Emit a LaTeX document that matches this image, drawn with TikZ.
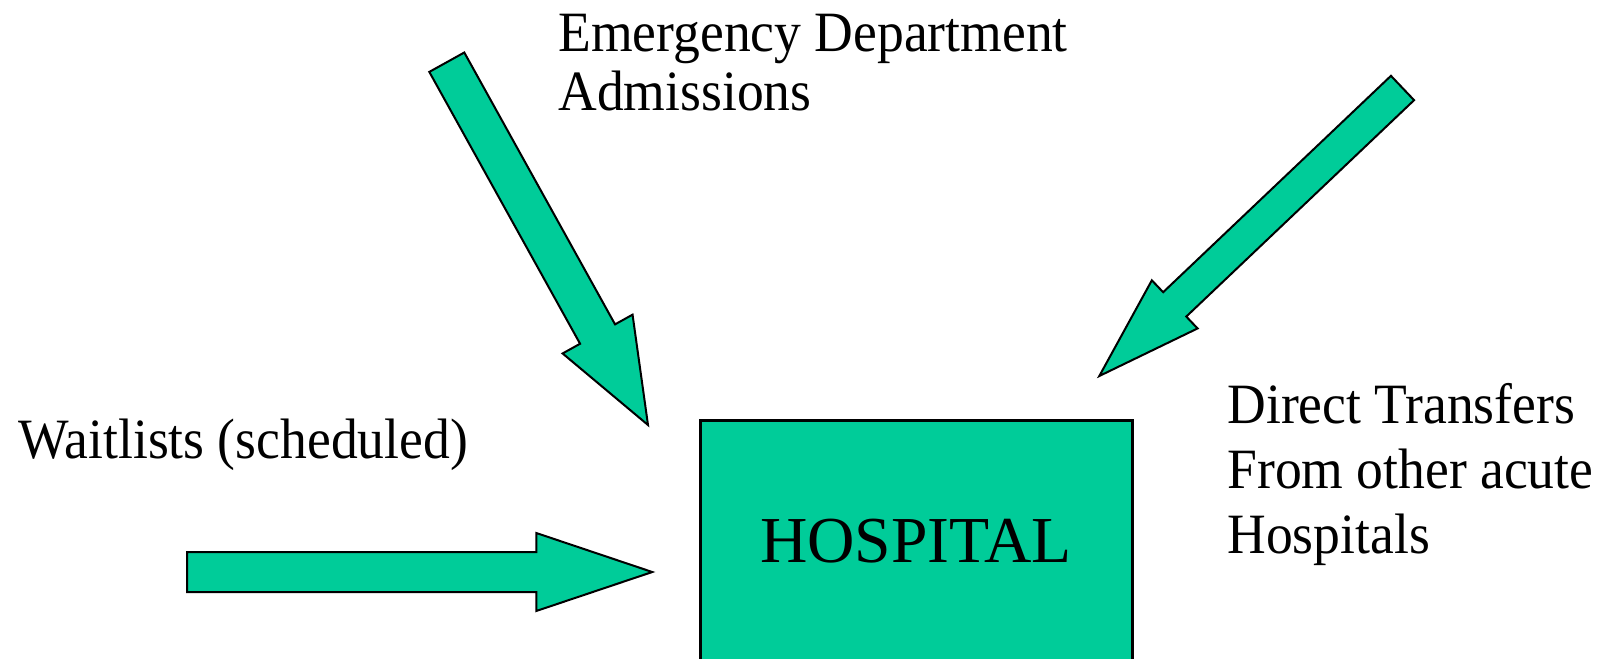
\documentclass[tikz,border=0pt]{standalone}
\usepackage{fontspec}
\setmainfont{Liberation Serif}
\newfontfamily\lblfont[FakeStretch=0.94]{Liberation Serif}
\newfontfamily\boxfont[FakeStretch=1.0]{Liberation Serif}
\usepackage{tikz}
\usetikzlibrary{calc}
\definecolor{flowgreen}{HTML}{00CC99}

% block arrow: tail, tip, half shaft, half head, head length
\newcommand{\blockarrow}[5]{%
  \coordinate (#2-base) at ($(#2)!#5!(#1)$);
  \draw[flowarrow] ($(#1)!#3!90:(#2)$) -- ($(#2-base)!#3!90:(#2)$)
    -- ($(#2-base)!#4!90:(#2)$) -- (#2) -- ($(#2-base)!#4!-90:(#2)$)
    -- ($(#2-base)!#3!-90:(#2)$) -- ($(#1)!#3!-90:(#2)$) -- cycle;}

\begin{document}
\begin{tikzpicture}[x=0.5pt, y=-0.5pt,
    flowarrow/.style={fill=flowgreen, draw=black, line width=1pt, line join=miter},
    flowlabel/.style={anchor=base west, inner sep=0pt, align=left,
      font=\lblfont\fontsize{28.5}{29.5}\selectfont},
    hospbox/.style={fill=flowgreen, draw=black, line width=1.5pt,
      minimum width=216pt, minimum height=121.5pt, inner sep=0pt,
      font=\boxfont\fontsize{32.8}{39}\selectfont}]
  \useasboundingbox (0,0) rectangle (1604,658);
  \fill[white] (0,0) rectangle (1604,658);
  \clip (0,0) rectangle (1604,658);

  \node[hospbox] (hospital) at (916,541.5) {\raisebox{-3pt}{HOSPITAL}};

  % last line of each label sits on the given baseline
  \node[flowlabel] (edlabel) at (558,111) {Emergency Department\\Admissions};
  \node[flowlabel] (waitlabel) at (18,458) {Waitlists (scheduled)};
  \node[flowlabel, font=\lblfont\fontsize{28.5}{32.5}\selectfont]
    (transferlabel) at (1227,553) {Direct Transfers\\From other acute\\Hospitals};

  \coordinate (waittail)  at (187,572);
  \coordinate (waittip)   at (652.3,572);
  \coordinate (edtail)    at (446.8,62.2);
  \coordinate (edtip)     at (648,425);
  \coordinate (transtail) at (1402.5,88);
  \coordinate (transtip)  at (1099.3,376);

  \blockarrow{waittail}{waittip}{10pt}{19.5pt}{58pt}
  \blockarrow{edtail}{edtip}{10pt}{20pt}{52pt}
  \blockarrow{transtail}{transtip}{8.4pt}{16.6pt}{52pt}
\end{tikzpicture}
\end{document}
